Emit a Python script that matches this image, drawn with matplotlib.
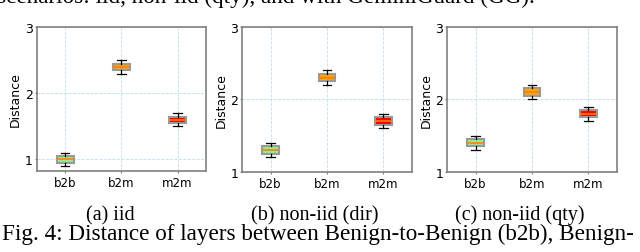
import matplotlib.pyplot as plt

# Box statistics: (whisker low, q1, median, q3, whisker high)
categories = ["b2b", "b2m", "m2m"]
box_colors = ["lightgreen", "orange", "red"]

iid_stats = [(0.90, 0.95, 1.00, 1.05, 1.10),
             (2.30, 2.35, 2.40, 2.45, 2.50),
             (1.50, 1.55, 1.60, 1.65, 1.70)]
dir_stats = [(1.20, 1.25, 1.30, 1.35, 1.40),
             (2.20, 2.25, 2.30, 2.35, 2.40),
             (1.60, 1.65, 1.70, 1.75, 1.80)]
qty_stats = [(1.30, 1.35, 1.40, 1.45, 1.50),
             (2.00, 2.05, 2.10, 2.15, 2.20),
             (1.70, 1.75, 1.80, 1.85, 1.90)]

panels = [iid_stats, dir_stats, qty_stats]
subcaptions = ["(a) iid", "(b) non-iid (dir)", "(c) non-iid (qty)"]
ylims = [(0.83, 3.0), (1.0, 3.0), (1.0, 3.0)]

W, H = 640, 253
fig = plt.figure(figsize=(W / 100, H / 100), dpi=100)

# axes boxes in pixels: left, right, top, bottom
boxes = [(37, 205.7, 28.3, 171.7),
         (242.3, 411.7, 28, 172.7),
         (447.3, 616.7, 28, 172.7)]
caption_x = [110, 315, 520]

for stats, (l, r, t, b), ylim, cap, cx in zip(panels, boxes, ylims, subcaptions, caption_x):
    ax = fig.add_axes([l / W, (H - b) / H, (r - l) / W, (b - t) / H])
    bxp_stats = [dict(whislo=s[0], q1=s[1], med=s[2], q3=s[3], whishi=s[4], fliers=[])
                 for s in stats]
    bp = ax.bxp(bxp_stats, positions=[1, 2, 3], widths=0.3, patch_artist=True,
                boxprops=dict(edgecolor="#999999", linewidth=1.5),
                whiskerprops=dict(color="black", linewidth=0.9),
                capprops=dict(color="black", linewidth=0.9),
                medianprops=dict(color="#ff7f0e", linewidth=1.2))
    for patch, c in zip(bp["boxes"], box_colors):
        patch.set_facecolor(c)
    ax.set_xlim(0.5, 3.5)
    ax.set_ylim(*ylim)
    ax.set_yticks([1, 2, 3])
    ax.set_xticks([1, 2, 3])
    ax.set_xticklabels(categories, fontsize=8.5)
    ax.tick_params(axis="y", labelsize=9, length=1.5, pad=1.5, color="#808080")
    ax.tick_params(axis="x", length=1.5, pad=2.5, color="#808080")
    ax.set_ylabel("Distance", fontsize=9, labelpad=2)
    ax.grid(True, color="lightblue", linestyle="--", linewidth=0.6, alpha=0.8)
    ax.set_axisbelow(True)
    for sp in ax.spines.values():
        sp.set_color("#808080")
        sp.set_linewidth(1.2)
    fig.text(cx / W, 1 - 220 / H, cap, ha="center", va="baseline",
             fontsize=14.5, family="Liberation Serif")

fig.text(2 / W, 1 - 240 / H,
         "Fig. 4: Distance of layers between Benign-to-Benign (b2b), Benign-",
         ha="left", va="baseline", fontsize=16.7, family="Liberation Serif")
fig.text(-3 / W, 1 - 3.5 / H,
         "scenarios: iid, non-iid (qty), and with GeminiGuard (GG).",
         ha="left", va="baseline", fontsize=16.7, family="Liberation Serif")

fig.savefig("out.png", dpi=100)
